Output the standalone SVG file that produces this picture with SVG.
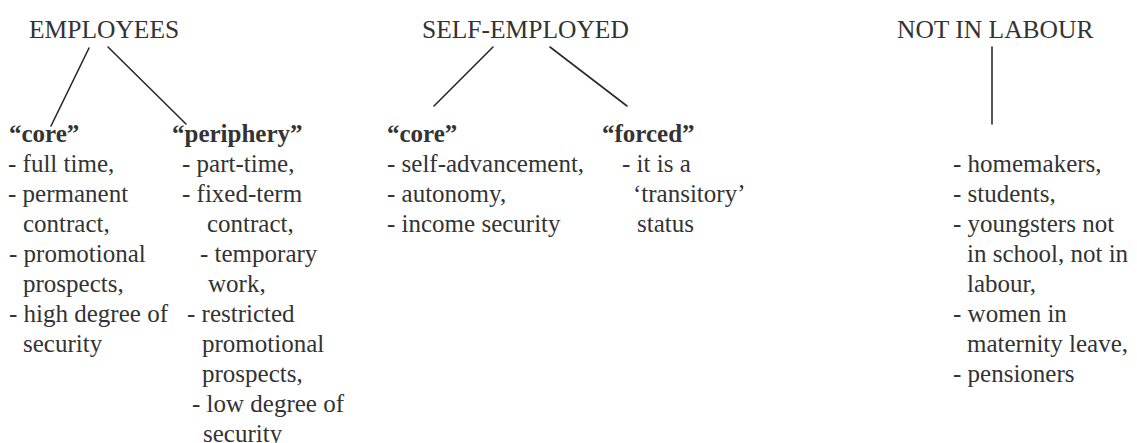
<svg xmlns="http://www.w3.org/2000/svg" width="1137" height="443" viewBox="0 0 1137 443">
  <style>
    text { font-family: "Liberation Serif", "Times New Roman", serif; font-size: 25px; fill: #333333; }
    .head { font-size: 25.5px; }
    .sub { font-weight: bold; }
    .link { stroke: #2a2a2a; stroke-width: 1.6; fill: none; stroke-linecap: round; }
  </style>
  <rect width="1137" height="443" fill="#ffffff"/>

  <!-- connectors -->
  <g id="connectors">
    <line class="link" x1="89" y1="48" x2="51" y2="126"/>
    <line class="link" x1="108" y1="47" x2="186" y2="124"/>
    <line class="link" x1="493" y1="47" x2="434" y2="106"/>
    <line class="link" x1="550" y1="47" x2="627" y2="106"/>
    <line class="link" x1="992" y1="47" x2="992" y2="124"/>
  </g>

  <!-- top-level categories -->
  <g id="employees">
    <text class="head" x="29" y="38">EMPLOYEES</text>
  </g>
  <g id="self-employed">
    <text class="head" x="422" y="38">SELF-EMPLOYED</text>
  </g>
  <g id="not-in-labour">
    <text class="head" x="897" y="38">NOT IN LABOUR</text>
  </g>

  <!-- employees: core -->
  <g id="employees-core">
    <text class="sub" x="9" y="142">“core”</text>
    <text x="8" y="172">- full time,</text>
    <text x="8" y="202">- permanent</text>
    <text x="23" y="232">contract,</text>
    <text x="9" y="262">- promotional</text>
    <text x="23" y="292">prospects,</text>
    <text x="9" y="322">- high degree of</text>
    <text x="23" y="352">security</text>
  </g>

  <!-- employees: periphery -->
  <g id="employees-periphery">
    <text class="sub" x="172" y="142">“periphery”</text>
    <text x="182" y="172">- part-time,</text>
    <text x="182" y="202">- fixed-term</text>
    <text x="207" y="232">contract,</text>
    <text x="200" y="262">- temporary</text>
    <text x="208" y="292">work,</text>
    <text x="187" y="322">- restricted</text>
    <text x="202" y="352">promotional</text>
    <text x="202" y="382">prospects,</text>
    <text x="192" y="412">- low degree of</text>
    <text x="203" y="442">security</text>
  </g>

  <!-- self-employed: core -->
  <g id="self-employed-core">
    <text class="sub" x="387" y="142">“core”</text>
    <text x="387" y="172">- self-advancement,</text>
    <text x="387" y="202">- autonomy,</text>
    <text x="387" y="232">- income security</text>
  </g>

  <!-- self-employed: forced -->
  <g id="self-employed-forced">
    <text class="sub" x="602" y="142">“forced”</text>
    <text x="622" y="172">- it is a</text>
    <text x="633" y="202">‘transitory’</text>
    <text x="637" y="232">status</text>
  </g>

  <!-- not in labour: list -->
  <g id="not-in-labour-list">
    <text x="953" y="172">- homemakers,</text>
    <text x="953" y="202">- students,</text>
    <text x="953" y="232">- youngsters not</text>
    <text x="967" y="262">in school, not in</text>
    <text x="967" y="292">labour,</text>
    <text x="953" y="322">- women in</text>
    <text x="967" y="352">maternity leave,</text>
    <text x="953" y="382">- pensioners</text>
  </g>
</svg>
